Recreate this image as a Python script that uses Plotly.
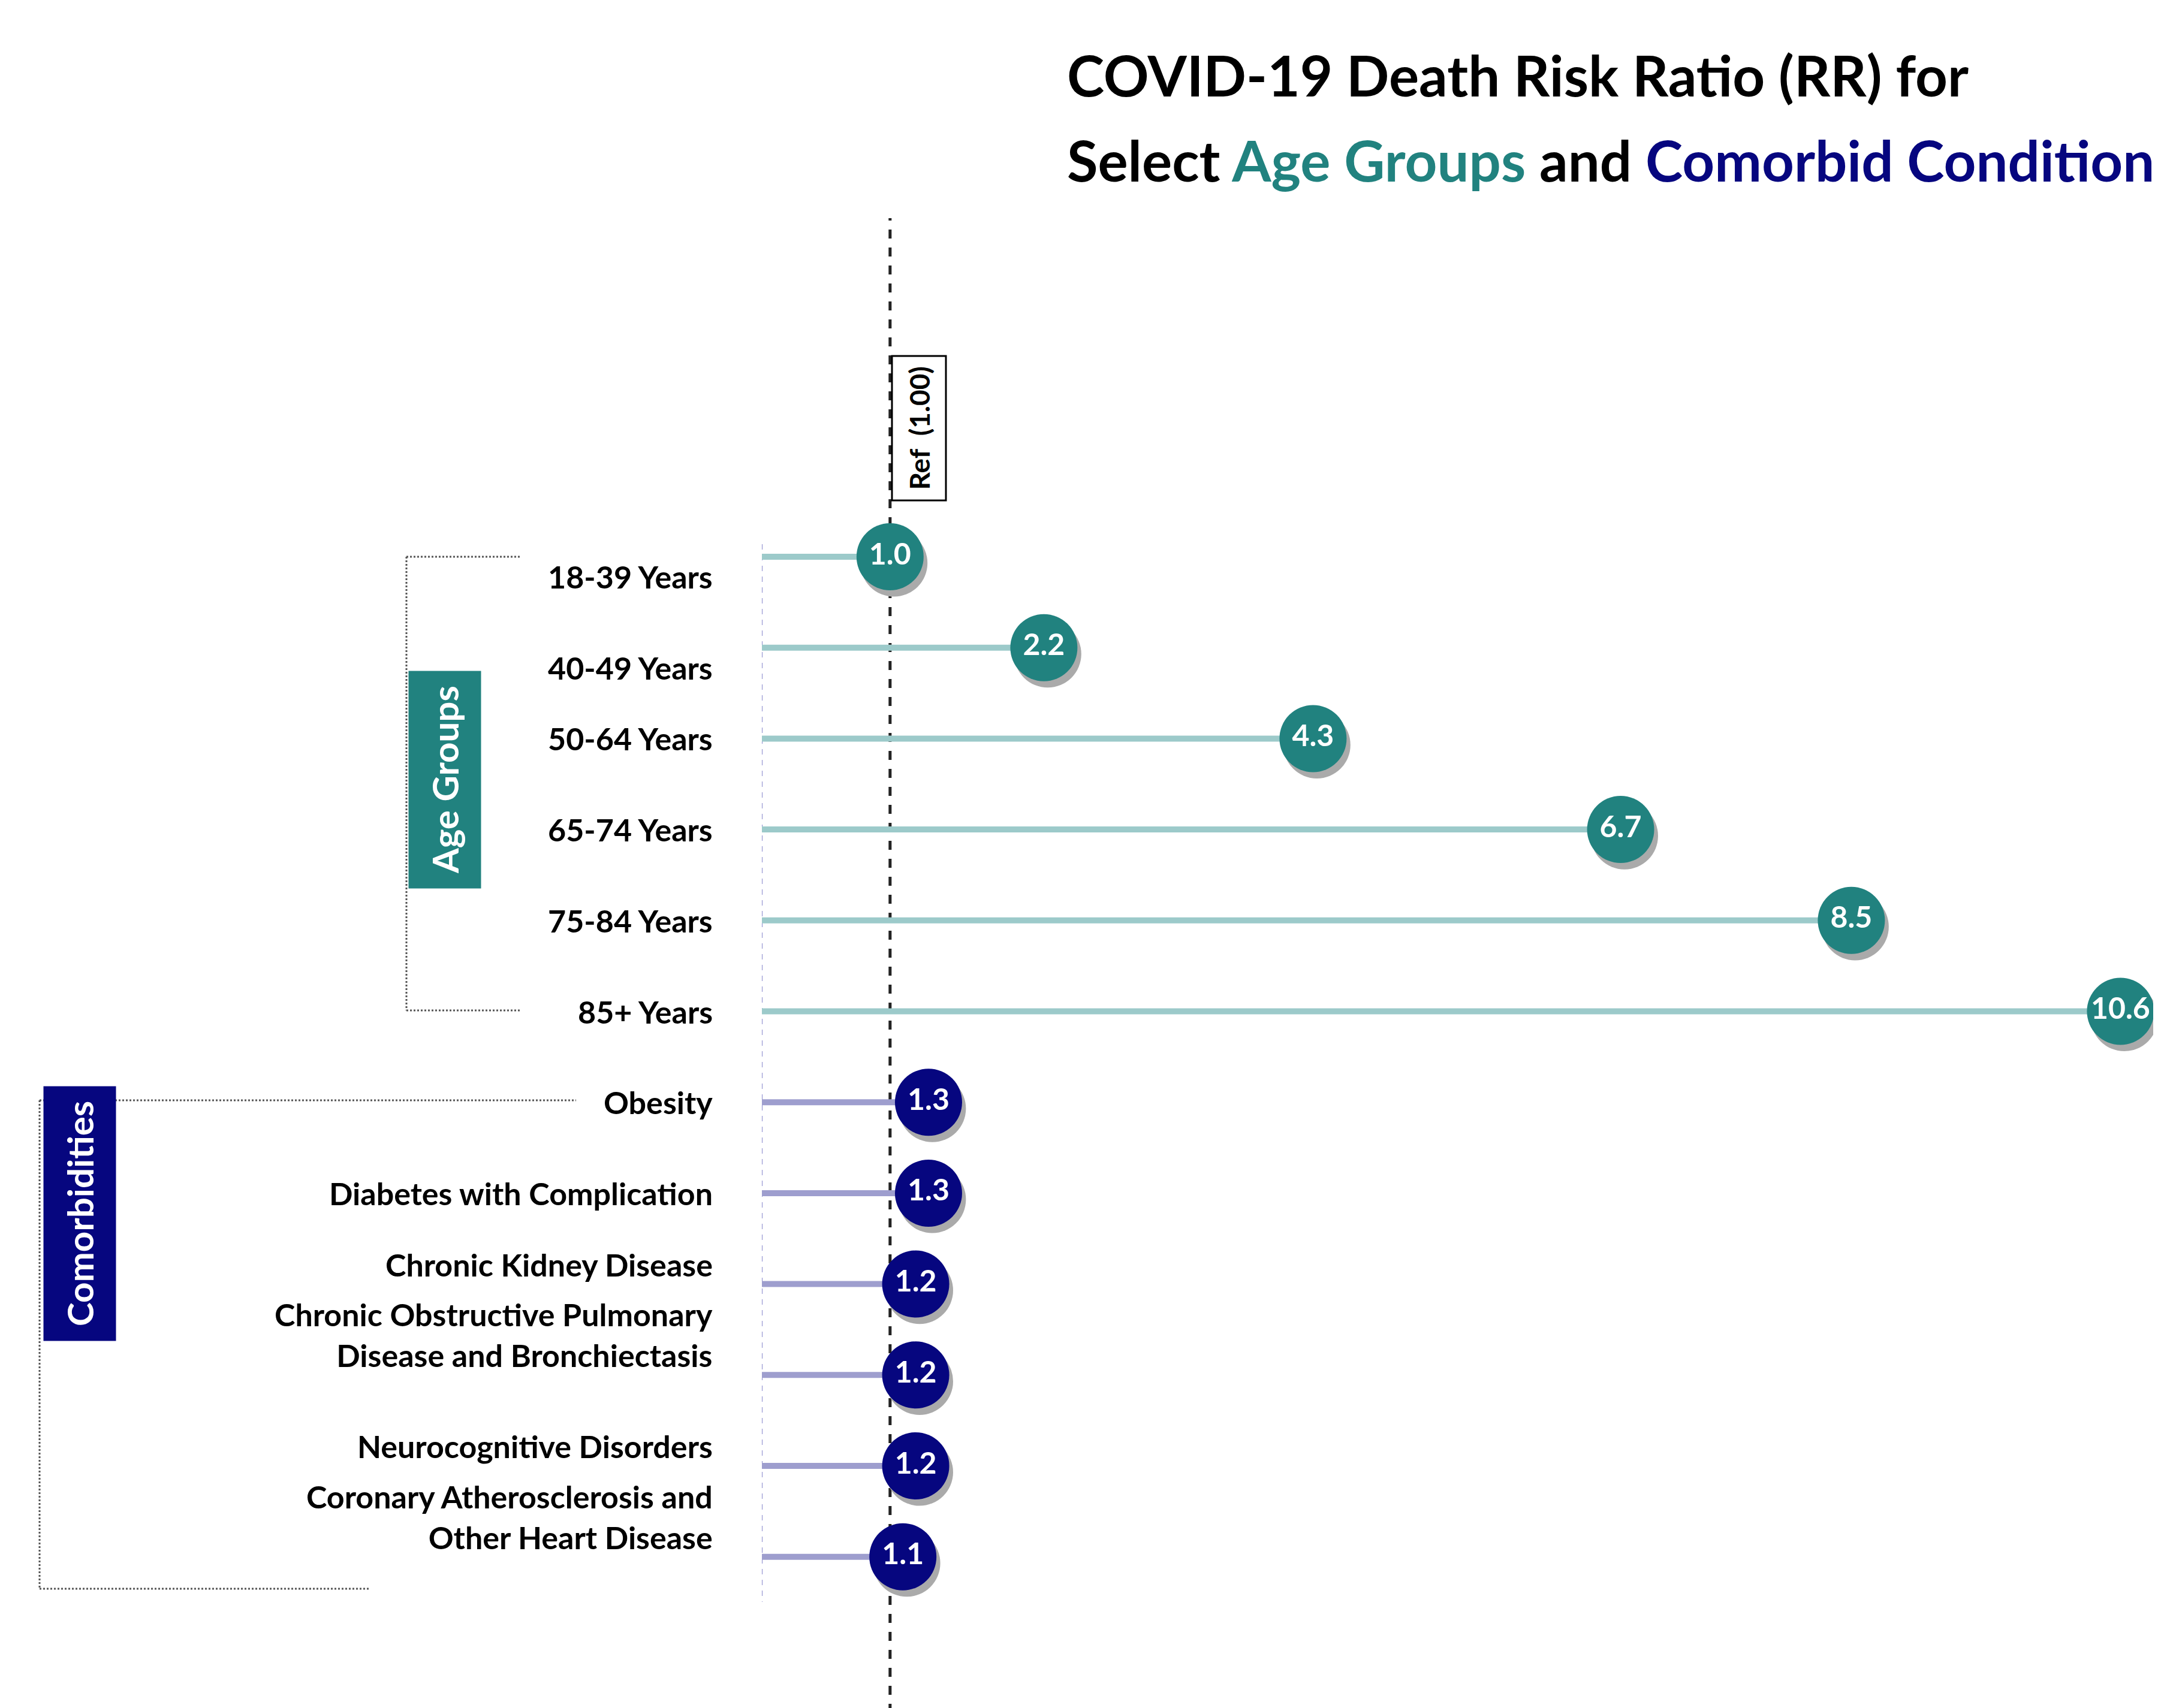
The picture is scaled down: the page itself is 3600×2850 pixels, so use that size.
import plotly.graph_objects as go

categories = ["18-39 Years", "40-49 Years", "50-64 Years", "65-74 Years", "75-84 Years", "85+ Years",
              "Obesity", "Diabetes with Complication", "Chronic Kidney Disease",
              "Chronic Obstructive Pulmonary<br>Disease and Bronchiectasis",
              "Neurocognitive Disorders", "Coronary Atherosclerosis and<br>Other Heart Disease"]
values = [1.0, 2.2, 4.3, 6.7, 8.5, 10.6, 1.3, 1.3, 1.2, 1.2, 1.2, 1.1]
groups = ["age"] * 6 + ["com"] * 6

TEAL, NAVY = "#21827F", "#06067F"
TEAL_L, NAVY_L = "#9CCACA", "#9E9ECE"
FONT = "Lato"

W, H = 3600, 2850
L, T = 1263, 356
XMAX = 10.93
S = 151.7
Y0 = 921
def PX(px): return (px - L) / (W - L)
def PY(py): return 1 - (py - T) / (H - T)
def Y(py): return (py - Y0) / S

n = len(values)
ys = list(range(n))
fig = go.Figure()
for i, (v, g) in enumerate(zip(values, groups)):
    fig.add_trace(go.Scatter(x=[0, v], y=[i, i], mode="lines",
                             line=dict(color=TEAL_L if g == "age" else NAVY_L, width=10),
                             hoverinfo="skip", showlegend=False))
fig.add_trace(go.Scatter(x=[v + 0.03 for v in values], y=[y + 0.07 for y in ys], mode="markers",
                         marker=dict(size=112, color="#AAAAAA"), showlegend=False, cliponaxis=False))
fig.add_trace(go.Scatter(x=values, y=ys, mode="markers+text",
                         marker=dict(size=112, color=[TEAL if g == "age" else NAVY for g in groups]),
                         text=[f"{v:.1f}" for v in values], textposition="middle center",
                         textfont=dict(family=FONT, size=50, color="white", weight="bold"),
                         showlegend=False, cliponaxis=False))

shapes = [
    dict(type="line", xref="x", yref="paper", x0=1, x1=1, y0=0, y1=1, layer="below",
         line=dict(color="#222", width=5, dash="dash")),
    dict(type="line", xref="x", yref="y", x0=0, x1=0, y0=Y(900), y1=Y(2665), layer="below",
         line=dict(color="#8888CC", width=2, dash="dash")),
]
def seg(x0, y0, x1, y1):
    shapes.append(dict(type="line", xref="paper", yref="paper", x0=PX(x0), x1=PX(x1), y0=PY(y0), y1=PY(y1),
                       line=dict(color="#555", width=3, dash="dot")))
seg(670, 921, 670, 1678); seg(670, 921, 860, 921); seg(670, 1678, 860, 1678)
seg(58, 1828, 58, 2643); seg(58, 1828, 953, 1828); seg(58, 2643, 608, 2643)

ann = []
for i, c in enumerate(categories):
    ann.append(dict(x=PX(1183), y=PY(Y0 + i * S), xref="paper", yref="paper", text=c, showarrow=False,
                    xanchor="right", align="right",
                    font=dict(family=FONT, size=52, color="black", weight="bold")))
ann.append(dict(x=PX(1479), y=PY(585), xref="paper", yref="paper", text="Ref  (1.00)", textangle=-90,
                showarrow=False, bgcolor="white", bordercolor="black", borderwidth=3, borderpad=16,
                font=dict(family=FONT, size=46, color="black", weight="bold")))
ann.append(dict(x=PX(673), y=PY(1293), xref="paper", yref="paper", text="Age Groups", textangle=-90,
                showarrow=False, bgcolor=TEAL, borderpad=24,
                font=dict(family=FONT, size=60, color="white", weight="bold")))
ann.append(dict(x=PX(64), y=PY(2230), xref="paper", yref="paper", text="Comorbidities", textangle=-90,
                showarrow=False, bgcolor=NAVY, borderpad=24,
                font=dict(family=FONT, size=60, color="white", weight="bold")))
ann.append(dict(x=PX(1770), y=PY(58), xref="paper", yref="paper", showarrow=False,
                text="COVID-19 Death Risk Ratio (RR) for",
                font=dict(family=FONT, size=94, color="black", weight="bold")))
ann.append(dict(x=PX(1770), y=PY(200), xref="paper", yref="paper", showarrow=False,
                text=f"Select <span style='color:{TEAL}'>Age Groups</span> and <span style='color:{NAVY}'>Comorbid Conditions</span>",
                font=dict(family=FONT, size=94, color="black", weight="bold")))

fig.update_layout(width=W, height=H, margin=dict(l=L, r=0, t=T, b=0),
                  paper_bgcolor="white", plot_bgcolor="white", shapes=shapes, annotations=ann,
                  xaxis=dict(range=[0, XMAX], visible=False),
                  yaxis=dict(range=[Y(H), Y(T)], visible=False))
fig.write_html("out.html")
